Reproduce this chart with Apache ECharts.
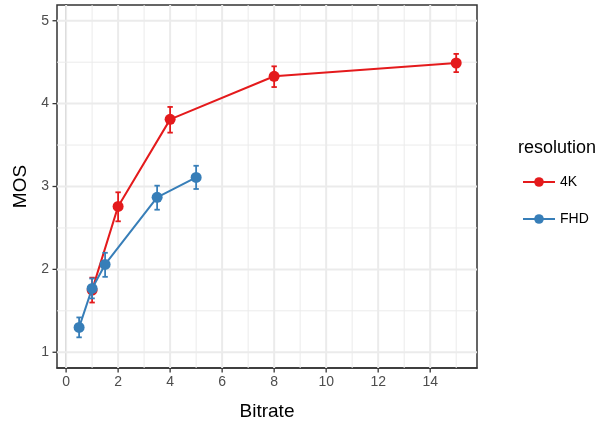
<!DOCTYPE html>
<html><head><meta charset="utf-8">
<script src="https://cdn.jsdelivr.net/npm/echarts@6/dist/echarts.min.js"></script>
<style>html,body{margin:0;padding:0;background:#fff}#c{width:600px;height:423px}</style>
</head><body><div id="c"></div>
<script>
const bitrate4K = [1, 2, 4, 8, 15];
const mos4K = [1.75, 2.76, 3.81, 4.33, 4.49];
const low4K = [1.60, 2.58, 3.65, 4.20, 4.38];
const high4K = [1.90, 2.93, 3.96, 4.45, 4.60];
const bitrateFHD = [0.5, 1, 1.5, 3.5, 5];
const mosFHD = [1.30, 1.77, 2.06, 2.87, 3.11];
const lowFHD = [1.18, 1.65, 1.91, 2.72, 2.97];
const highFHD = [1.42, 1.89, 2.20, 3.01, 3.25];
const xTicks = [0, 2, 4, 6, 8, 10, 12, 14];
const xMinor = [1, 3, 5, 7, 9, 11, 13, 15];
const yTicks = [1, 2, 3, 4, 5];
const yMinor = [1.5, 2.5, 3.5, 4.5];
const xMin = -0.35, xMax = 15.8, yMin = 0.81, yMax = 5.19;

const red = '#E41A1C', blue = '#377EB8';
const FONT = 'Liberation Sans';

function gridSeries(values, dir, width) {
  return {
    type: 'custom', silent: true, z: 1,
    data: values.map(v => [v]),
    renderItem: function (params, api) {
      const v = api.value(0);
      let p1, p2;
      if (dir === 'x') { p1 = api.coord([v, yMin]); p2 = api.coord([v, yMax]); }
      else { p1 = api.coord([xMin, v]); p2 = api.coord([xMax, v]); }
      return { type: 'line', shape: { x1: p1[0], y1: p1[1], x2: p2[0], y2: p2[1] },
        style: { stroke: '#ebebeb', lineWidth: width } };
    }
  };
}
function tickSeries(values, dir) {
  return {
    type: 'custom', silent: true, z: 8, clip: false,
    data: values.map(v => [v]),
    renderItem: function (params, api) {
      const v = api.value(0);
      let s;
      if (dir === 'x') { const p = api.coord([v, yMin]); s = { x1: p[0], y1: p[1] + 0.5, x2: p[0], y2: p[1] + 4.5 }; }
      else { const p = api.coord([xMin, v]); s = { x1: p[0] - 0.5, y1: p[1], x2: p[0] - 4.5, y2: p[1] }; }
      return { type: 'line', shape: s, style: { stroke: '#333', lineWidth: 1.3 } };
    }
  };
}
function errSeries(name, xs, lo, hi, color, z) {
  return {
    type: 'custom', name: name, silent: true, z: z,
    data: xs.map((x, i) => [x, lo[i], hi[i]]),
    renderItem: function (params, api) {
      const x = api.value(0);
      const a = api.coord([x, api.value(1)]);
      const b = api.coord([x, api.value(2)]);
      const w = 2.7;
      const st = { stroke: color, lineWidth: 1.8 };
      return { type: 'group', children: [
        { type: 'line', shape: { x1: a[0], y1: a[1], x2: b[0], y2: b[1] }, style: st },
        { type: 'line', shape: { x1: a[0] - w, y1: a[1], x2: a[0] + w, y2: a[1] }, style: st },
        { type: 'line', shape: { x1: b[0] - w, y1: b[1], x2: b[0] + w, y2: b[1] }, style: st }
      ]};
    }
  };
}
function lineSeries(name, xs, ys, color, z) {
  return {
    type: 'line', name: name, z: z,
    data: xs.map((x, i) => [x, ys[i]]),
    symbol: 'circle', symbolSize: 11, showSymbol: true,
    lineStyle: { color: color, width: 2 },
    itemStyle: { color: color },
    animation: false
  };
}

const chart = echarts.init(document.getElementById('c'), null, { renderer: 'canvas' });
chart.setOption({
  animation: false,
  backgroundColor: '#fff',
  title: { text: 'resolution', left: 513, top: 134,
    textStyle: { fontFamily: FONT, fontSize: 18, fontWeight: 'normal', color: '#000' } },
  legend: {
    data: ['4K', 'FHD'], orient: 'vertical', left: 517, top: 170,
    itemWidth: 32, itemHeight: 12, itemGap: 23,
    textStyle: { fontFamily: FONT, fontSize: 14, color: '#000' }
  },
  grid: { left: 57, top: 5, right: 123, bottom: 55, show: true,
    borderColor: '#333', borderWidth: 1.5, outerBoundsMode: 'none', containLabel: false },
  xAxis: {
    type: 'value', min: xMin, max: xMax,
    name: 'Bitrate', nameLocation: 'middle', nameGap: 34,
    nameTextStyle: { fontFamily: FONT, fontSize: 19, color: '#000' },
    axisLine: { show: true, lineStyle: { color: '#333', width: 1.5 } },
    axisTick: { show: false },
    axisLabel: { customValues: xTicks, margin: 7, fontFamily: FONT, fontSize: 14, color: '#4d4d4d' },
    splitLine: { show: false }
  },
  yAxis: {
    type: 'value', min: yMin, max: yMax,
    name: 'MOS', nameLocation: 'middle', nameGap: 27, nameRotate: 90,
    nameTextStyle: { fontFamily: FONT, fontSize: 19, color: '#000' },
    axisLine: { show: true, lineStyle: { color: '#333', width: 1.5 } },
    axisTick: { show: false },
    axisLabel: { customValues: yTicks, margin: 8, fontFamily: FONT, fontSize: 14, color: '#4d4d4d' },
    splitLine: { show: false }
  },
  series: [
    gridSeries(xMinor, 'x', 1),
    gridSeries(yMinor, 'y', 1),
    gridSeries(xTicks, 'x', 2),
    gridSeries(yTicks, 'y', 2),
    tickSeries(xTicks, 'x'),
    tickSeries(yTicks, 'y'),
    errSeries('4K err', bitrate4K, low4K, high4K, red, 3),
    lineSeries('4K', bitrate4K, mos4K, red, 4),
    errSeries('FHD err', bitrateFHD, lowFHD, highFHD, blue, 5),
    lineSeries('FHD', bitrateFHD, mosFHD, blue, 6)
  ]
});
</script></body></html>
